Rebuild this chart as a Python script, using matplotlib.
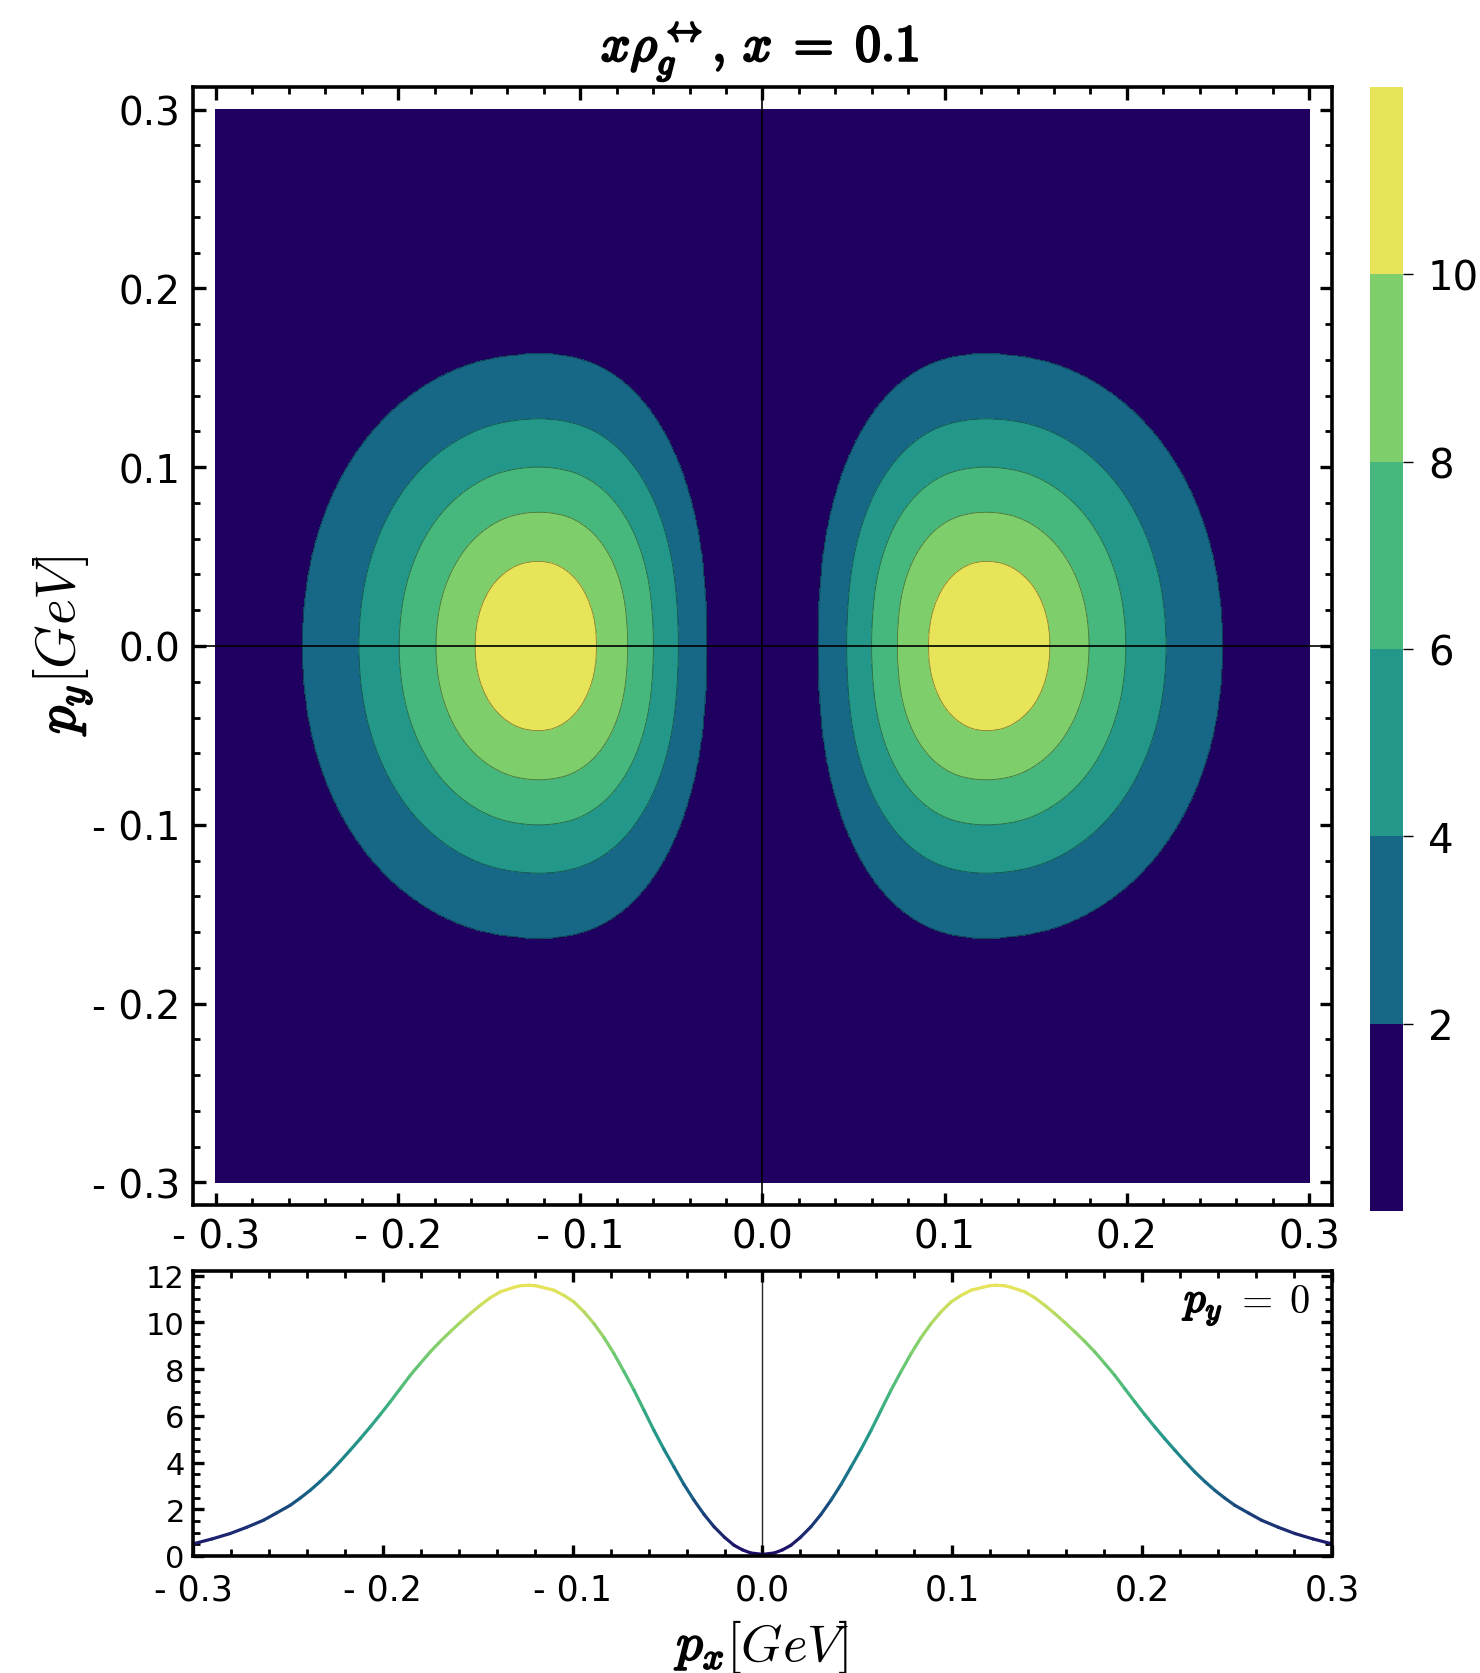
import numpy as np
import matplotlib
matplotlib.use("Agg")
import matplotlib.pyplot as plt
import matplotlib.patheffects as pe
from matplotlib.colors import ListedColormap, BoundaryNorm, LinearSegmentedColormap, Normalize
from matplotlib.collections import LineCollection
from matplotlib.ticker import MultipleLocator, FuncFormatter

plt.rcParams['mathtext.fontset'] = 'cm'

# ---------------- data ----------------
levels = [0, 2, 4, 6, 8, 10, 12]
band_colors = ['#1f0060', '#176787', '#22978a', '#46b87d', '#7ecf6c', '#e7e45a']
cbar_ticks = [2, 4, 6, 8, 10]

# left lobe centre and peak value (right lobe is its mirror image in p_x)
lobe_center_px = -0.1236
peak_value = 11.6

# contour boundaries of the left lobe, upper half (p_y >= 0); symmetric in p_y
c2_px = [-0.2524, -0.2482, -0.2359, -0.2161, -0.1899, -0.1588, -0.1231,
         -0.0946, -0.0725, -0.0548, -0.0416, -0.0334, -0.0307]
c2_py = [0.0, 0.0451, 0.0844, 0.1174, 0.1424, 0.1580, 0.1633,
         0.1585, 0.1441, 0.1208, 0.0894, 0.0504, 0.0]

c4_px = [-0.2215, -0.2183, -0.2089, -0.1939, -0.1740, -0.1503, -0.1231,
         -0.0994, -0.0810, -0.0662, -0.0552, -0.0485, -0.0462]
c4_py = [0.0, 0.0351, 0.0656, 0.0913, 0.1107, 0.1229, 0.1270,
         0.1232, 0.1121, 0.0939, 0.0695, 0.0392, 0.0]

c6_px = [-0.1994, -0.1969, -0.1896, -0.1780, -0.1625, -0.1442, -0.1231,
         -0.1036, -0.0885, -0.0764, -0.0673, -0.0618, -0.0599]
c6_py = [0.0, 0.0276, 0.0517, 0.0719, 0.0872, 0.0968, 0.1000,
         0.0970, 0.0882, 0.0740, 0.0547, 0.0309, 0.0]

c8_px = [-0.1792, -0.1774, -0.1720, -0.1634, -0.1521, -0.1386, -0.1231,
         -0.1080, -0.0962, -0.0868, -0.0798, -0.0755, -0.0740]
c8_py = [0.0, 0.0207, 0.0387, 0.0538, 0.0652, 0.0724, 0.0748,
         0.0726, 0.0660, 0.0553, 0.0409, 0.0231, 0.0]

c10_px = [-0.1578, -0.1567, -0.1534, -0.1481, -0.1410, -0.1327, -0.1231,
          -0.1142, -0.1065, -0.1000, -0.0951, -0.0920, -0.0910]
c10_py = [0.0, 0.0131, 0.0245, 0.0341, 0.0413, 0.0459, 0.0474,
          0.0459, 0.0413, 0.0341, 0.0245, 0.0131, 0.0]

# profile at p_y = 0 (left half; right half is its mirror image)
curve_px = [-0.3000, -0.2900, -0.2805, -0.2717, -0.2629, -0.2560, -0.2488, -0.2435, -0.2383, -0.2330,
            -0.2277, -0.2225, -0.2172, -0.2119, -0.2066, -0.2013, -0.1961, -0.1908, -0.1855, -0.1802,
            -0.1750, -0.1697, -0.1645, -0.1592, -0.1539, -0.1486, -0.1435, -0.1381, -0.1310, -0.1275,
            -0.1231, -0.1195, -0.1160, -0.1099, -0.1045, -0.0994, -0.0940, -0.0888, -0.0835, -0.0783,
            -0.0730, -0.0677, -0.0625, -0.0572, -0.0520, -0.0467, -0.0415, -0.0361, -0.0308, -0.0255,
            -0.0200, -0.0150, -0.0105, -0.0062, 0.0]
curve_val = [0.52, 0.73, 0.96, 1.23, 1.53, 1.84, 2.17, 2.48, 2.81, 3.19,
             3.60, 4.05, 4.53, 5.02, 5.53, 6.06, 6.60, 7.17, 7.74, 8.25,
             8.74, 9.19, 9.60, 10.00, 10.38, 10.74, 11.05, 11.31, 11.50, 11.57,
             11.59, 11.57, 11.50, 11.38, 11.15, 10.88, 10.45, 9.95, 9.35, 8.67,
             7.90, 7.10, 6.25, 5.38, 4.58, 3.82, 3.08, 2.39, 1.78, 1.25,
             0.80, 0.46, 0.26, 0.13, 0.07]

tick_vals = [-0.3, -0.2, -0.1, 0.0, 0.1, 0.2, 0.3]


# ---------------- field built from the read boundaries ----------------
def smooth_boundary(bpx, bpy, n_sub=24):
    """Catmull-Rom curve through the read boundary points (mirrored ends for p_y symmetry)."""
    P = np.column_stack([bpx, bpy]).astype(float)
    first = np.array([P[1, 0], -P[1, 1]])
    last = np.array([P[-2, 0], -P[-2, 1]])
    Q = np.vstack([first, P, last])
    t = np.linspace(0, 1, n_sub, endpoint=False)[:, None]
    out = []
    for i in range(1, len(Q) - 2):
        p0, p1, p2, p3 = Q[i - 1], Q[i], Q[i + 1], Q[i + 2]
        seg = 0.5 * ((2 * p1) + (-p0 + p2) * t + (2 * p0 - 5 * p1 + 4 * p2 - p3) * t ** 2
                     + (-p0 + 3 * p1 - 3 * p2 + p3) * t ** 3)
        out.append(seg)
    out.append(P[-1:])
    return np.vstack(out)


def ray_radius(bpx, bpy, theta):
    S = smooth_boundary(bpx, bpy)
    dx = S[:, 0] - lobe_center_px
    dy = np.abs(S[:, 1])
    th = np.arctan2(dy, dx)
    r = np.hypot(dx, dy)
    order = np.argsort(th)
    return np.interp(theta, th[order], r[order])


gx = np.linspace(-0.3, 0.3, 801)
gy = np.linspace(-0.3, 0.3, 801)
PX, PY = np.meshgrid(gx, gy)
U = -np.abs(PX) - lobe_center_px
V = np.abs(PY)
TH = np.arctan2(V, U)
RR = np.hypot(U, V)
R2 = ray_radius(c2_px, c2_py, TH)
R4 = ray_radius(c4_px, c4_py, TH)
R6 = ray_radius(c6_px, c6_py, TH)
R8 = ray_radius(c8_px, c8_py, TH)
R10 = ray_radius(c10_px, c10_py, TH)
radii = [np.zeros_like(RR), R10, R8, R6, R4, R2, R2 * 1.8]
vals = [peak_value, 10, 8, 6, 4, 2, 0.3]
Z = np.full(RR.shape, 0.3)
for i in range(len(vals) - 1):
    r0, r1 = radii[i], radii[i + 1]
    m = (RR >= r0) & (RR < r1)
    t = (RR - r0) / np.maximum(r1 - r0, 1e-9)
    Z[m] = vals[i] + (vals[i + 1] - vals[i]) * t[m]

# ---------------- figure ----------------
W, H = 1480, 1674
fig = plt.figure(figsize=(W / 100, H / 100), dpi=100)
ax = fig.add_axes([193 / W, 1 - 1206 / H, 1139 / W, 1118 / H])
cax = fig.add_axes([1370 / W, 1 - 1212 / H, 33 / W, 1124 / H])
ax2 = fig.add_axes([193 / W, 1 - 1557 / H, 1139 / W, 285 / H])

cmap = ListedColormap(band_colors)
norm = BoundaryNorm(levels, cmap.N)
cf = ax.contourf(PX, PY, Z, levels=levels, cmap=cmap, norm=norm)
ax.contour(PX, PY, Z, levels=levels[1:-1], colors='k', linewidths=0.6, alpha=0.45)
ax.axhline(0, color='k', lw=1.2)
ax.axvline(0, color='k', lw=1.2)
ax.set_xlim(-0.3126, 0.3126)
ax.set_ylim(-0.3126, 0.3126)


def fmt(v, pos=None):
    s = f"{abs(v):.1f}"
    return ("- " + s) if v < -1e-9 else s


for a in (ax, ax2):
    for sp in a.spines.values():
        sp.set_linewidth(2.6)
    a.xaxis.set_major_formatter(FuncFormatter(fmt))
    a.xaxis.set_major_locator(MultipleLocator(0.1))
    a.xaxis.set_minor_locator(MultipleLocator(0.02))

ax.set_xticks(tick_vals)
ax.set_yticks(tick_vals)
ax.yaxis.set_major_formatter(FuncFormatter(fmt))
ax.yaxis.set_minor_locator(MultipleLocator(0.02))
ax.tick_params(which='major', direction='in', top=True, right=True, length=9, width=2.4,
               labelsize=28, pad=9)
ax.tick_params(which='minor', direction='in', top=True, right=True, length=5, width=2.0)

cb = fig.colorbar(cf, cax=cax, ticks=cbar_ticks)
cb.outline.set_visible(False)
cax.minorticks_off()
cax.tick_params(labelsize=29, length=7, width=1.0, direction='out', pad=11)

# lower panel
full_px = np.concatenate([curve_px, -np.array(curve_px[-2::-1])])
full_val = np.concatenate([curve_val, np.array(curve_val[-2::-1])])
pts = np.column_stack([full_px, full_val]).reshape(-1, 1, 2)
segs = np.concatenate([pts[:-1], pts[1:]], axis=1)
line_cmap = LinearSegmentedColormap.from_list(
    'prof', [(0.0, '#1e0a66'), (3 / 12, '#176787'), (5 / 12, '#22978a'), (7 / 12, '#46b87d'),
             (9 / 12, '#7ecf6c'), (11.4 / 12, '#e4e35a'), (1.0, '#e7e45a')])
lc = LineCollection(segs, cmap=line_cmap, norm=Normalize(0, 12), linewidths=2.3,
                    capstyle='round', joinstyle='round')
lc.set_array(0.5 * (full_val[:-1] + full_val[1:]))
ax2.add_collection(lc)
ax2.axvline(0, color='k', lw=1.0, alpha=0.85)
ax2.set_xlim(-0.3, 0.3)
ax2.set_ylim(0, 12.2)
ax2.set_xticks(tick_vals)
ax2.yaxis.set_major_locator(MultipleLocator(2))
ax2.yaxis.set_minor_locator(MultipleLocator(0.5))
ax2.tick_params(which='major', direction='in', top=True, right=True, length=8, width=2.4,
                labelsize=22, pad=6)
ax2.tick_params(axis='x', which='major', labelsize=25, pad=12)
ax2.tick_params(which='minor', direction='in', top=True, right=True, length=5, width=2.0)

bold = [pe.withStroke(linewidth=1.4, foreground='black')]

# "p_y = 0" annotation
fig.text(1224 / W, 1 - 1313 / H, r'$p_y$', ha='right', va='baseline', fontsize=31,
         path_effects=bold)
fig.text(1234 / W, 1 - 1313 / H, r'$=\;0$', ha='left', va='baseline', fontsize=29)

# title
fig.text(760 / W, 1 - 62 / H, r'$x\rho_g^{\leftrightarrow},\,x\;=\;0.1$',
         ha='center', va='baseline', fontsize=37,
         path_effects=[pe.withStroke(linewidth=1.8, foreground='black')])

# y label (bold p_y, regular [GeV])
fig.text(75 / W, 1 - 684 / H, r'$p_y$', rotation=90, rotation_mode='anchor',
         ha='right', va='baseline', fontsize=40, path_effects=bold)
fig.text(75 / W, 1 - 684 / H, r'$[GeV]$', rotation=90, rotation_mode='anchor',
         ha='left', va='baseline', fontsize=40)

# x label
fig.text(726 / W, 1 - 1661 / H, r'$p_x$', ha='right', va='baseline', fontsize=38,
         path_effects=bold)
fig.text(726 / W, 1 - 1661 / H, r'$[GeV]$', ha='left', va='baseline', fontsize=38)

fig.savefig('out.png', dpi=100)
